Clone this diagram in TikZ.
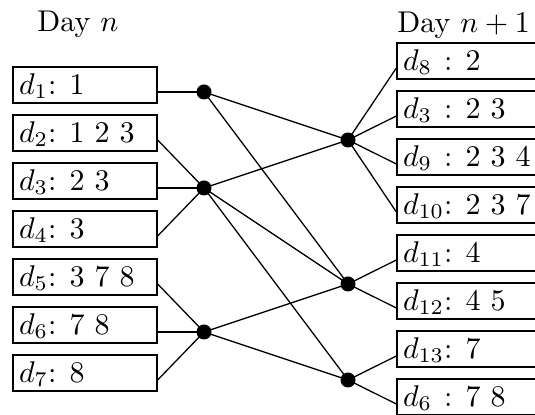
\documentclass[tikz,border=0pt]{standalone}
\usepackage{graphicx}
% labels set at 10pt and enlarged
\newcommand{\lbl}[1]{\scalebox{1.5}{\fontsize{10}{12}\selectfont #1}}
% box label, left aligned in a fixed width
\newcommand{\entry}[1]{\makebox[66pt][l]{\lbl{#1}}}
\begin{document}
\begin{tikzpicture}[x=0.5pt,y=-0.5pt,
  daybox/.style={draw,line width=0.65pt,minimum width=72pt,minimum height=18pt,
    inner xsep=3pt,inner ysep=0pt,
    text height=12pt,text depth=2.7pt},
  dayhead/.style={inner sep=0pt,anchor=base west},
  hub/.style={circle,fill=black,inner sep=0pt,minimum size=7.5pt},
  link/.style={line width=0.65pt}]
\useasboundingbox (0,0) rectangle (535,415);

% column headers
\node[dayhead] (hl) at (37,32) {\lbl{Day $n$}};
\node[dayhead] (hr) at (397,33) {\lbl{Day $n+1$}};

% documents of day n
\node[daybox] (l1) at (85,85)  {\entry{$d_1$: 1}};
\node[daybox] (l2) at (85,133) {\entry{$d_2$: 1 2 3}};
\node[daybox] (l3) at (85,181) {\entry{$d_3$: 2 3}};
\node[daybox] (l4) at (85,229) {\entry{$d_4$: 3}};
\node[daybox] (l5) at (85,277) {\entry{$d_5$: 3 7 8}};
\node[daybox] (l6) at (85,325) {\entry{$d_6$: 7 8}};
\node[daybox] (l7) at (85,373) {\entry{$d_7$: 8}};

% documents of day n+1
\node[daybox] (r1) at (469,61)  {\entry{$d_{8\phantom{0}}$: 2}};
\node[daybox] (r2) at (469,109) {\entry{$d_{3\phantom{0}}$: 2 3}};
\node[daybox] (r3) at (469,157) {\entry{$d_{9\phantom{0}}$: 2 3 4}};
\node[daybox] (r4) at (469,205) {\entry{$d_{10}$: 2 3 7}};
\node[daybox] (r5) at (469,253) {\entry{$d_{11}$: 4}};
\node[daybox] (r6) at (469,301) {\entry{$d_{12}$: 4 5}};
\node[daybox] (r7) at (469,349) {\entry{$d_{13}$: 7}};
\node[daybox] (r8) at (469,397) {\entry{$d_{6\phantom{0}}$: 7 8}};

% hubs
\node[hub] (a1) at (204,92)  {};
\node[hub] (a2) at (204,188) {};
\node[hub] (a3) at (204,332) {};
\node[hub] (b1) at (348,140) {};
\node[hub] (b2) at (348,284) {};
\node[hub] (b3) at (348,380) {};

% left boxes to hubs
\foreach \s/\t in {l1/a1,l2/a2,l3/a2,l4/a2,l5/a3,l6/a3,l7/a3}
  \draw[link] ([yshift=-3.5pt]\s.east) -- (\t.center);

% hub to hub
\foreach \s/\t in {a1/b1,a1/b2,a2/b1,a2/b2,a2/b3,a3/b2,a3/b3}
  \draw[link] (\s.center) -- (\t.center);

% hubs to right boxes
\foreach \s/\t in {b1/r1,b1/r2,b1/r3,b1/r4,b2/r5,b2/r6,b3/r7,b3/r8}
  \draw[link] (\s.center) -- ([yshift=-3.5pt]\t.west);
\end{tikzpicture}
\end{document}
